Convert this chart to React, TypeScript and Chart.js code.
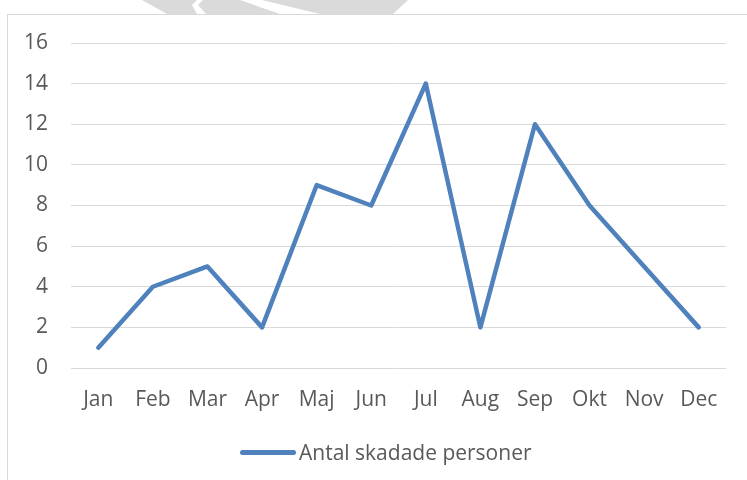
import React, { useEffect, useRef } from "react";
import { Chart, registerables } from "chart.js";

Chart.register(...registerables);

const months = ["Jan", "Feb", "Mar", "Apr", "Maj", "Jun", "Jul", "Aug", "Sep", "Okt", "Nov", "Dec"];
const injured = [1, 4, 5, 2, 9, 8, 14, 2, 12, 8, 5, 2];
const seriesName = "Antal skadade personer";
const yMin = 0;
const yMax = 16;
const yStep = 2;

const LINE_COLOR = "#4f81bd";
const TEXT_COLOR = "#595959";
const GRID_COLOR = "#d9d9d9";
const FONT = "'Open Sans', sans-serif";
const FONT_SIZE = 21;

export default function App() {
  const canvasRef = useRef<HTMLCanvasElement | null>(null);

  useEffect(() => {
    const canvas = canvasRef.current;
    if (!canvas) return;
    const chart = new Chart(canvas, {
      type: "line",
      data: {
        labels: months,
        datasets: [
          {
            label: seriesName,
            data: injured,
            borderColor: LINE_COLOR,
            backgroundColor: LINE_COLOR,
            borderWidth: 4.5,
            borderJoinStyle: "round",
            borderCapStyle: "round",
            pointRadius: 0,
            tension: 0,
            fill: false,
          },
        ],
      },
      options: {
        responsive: false,
        animation: false,
        devicePixelRatio: 1,
        layout: { padding: { left: 0, right: 21, top: 43, bottom: 0 } },
        plugins: {
          legend: { display: false },
          tooltip: { enabled: false },
        },
        scales: {
          x: {
            offset: true,
            grid: { display: false, drawTicks: false },
            border: { display: false },
            ticks: {
              color: TEXT_COLOR,
              font: { family: FONT, size: FONT_SIZE },
              padding: 19,
              maxRotation: 0,
              autoSkip: false,
            },
            afterFit: (s: any) => {
              s.height = 112;
            },
          },
          y: {
            min: yMin,
            max: yMax,
            grid: { color: GRID_COLOR, lineWidth: 1, drawTicks: false },
            border: { display: false },
            ticks: {
              stepSize: yStep,
              color: TEXT_COLOR,
              font: { family: FONT, size: FONT_SIZE },
              padding: 23,
            },
            afterFit: (s: any) => {
              s.width = 71;
            },
          },
        },
      },
    });
    return () => chart.destroy();
  }, []);

  return (
    <div
      style={{
        position: "fixed",
        left: 0,
        top: 0,
        width: 747,
        height: 480,
        overflow: "hidden",
        background: "#fff",
      }}
    >
      <svg
        width={747}
        height={480}
        style={{ position: "absolute", left: 0, top: 0 }}
      >
        <polygon points="142,0 197,0 192,5 197,14 167,14" fill="#dadada" />
        <polygon points="203,0 240,0 280,14 206,14 198,5" fill="#dadada" />
        <polygon points="262,0 408,0 393,14 320,14" fill="#dadada" />
      </svg>
      <div
        style={{
          position: "absolute",
          left: 7,
          top: 14,
          width: 800,
          height: 600,
          border: `1px solid ${GRID_COLOR}`,
          boxSizing: "border-box",
        }}
      />
      <canvas
        ref={canvasRef}
        width={747}
        height={480}
        style={{ position: "absolute", left: 0, top: 0, width: 747, height: 480 }}
      />
      <div
        style={{
          position: "absolute",
          left: 240,
          top: 450,
          width: 56,
          height: 5,
          borderRadius: 3,
          background: LINE_COLOR,
        }}
      />
      <div
        style={{
          position: "absolute",
          left: 299,
          top: 452,
          transform: "translateY(-50%)",
          fontFamily: FONT,
          fontSize: FONT_SIZE,
          color: TEXT_COLOR,
          whiteSpace: "nowrap",
          lineHeight: 1,
        }}
      >
        {seriesName}
      </div>
    </div>
  );
}
